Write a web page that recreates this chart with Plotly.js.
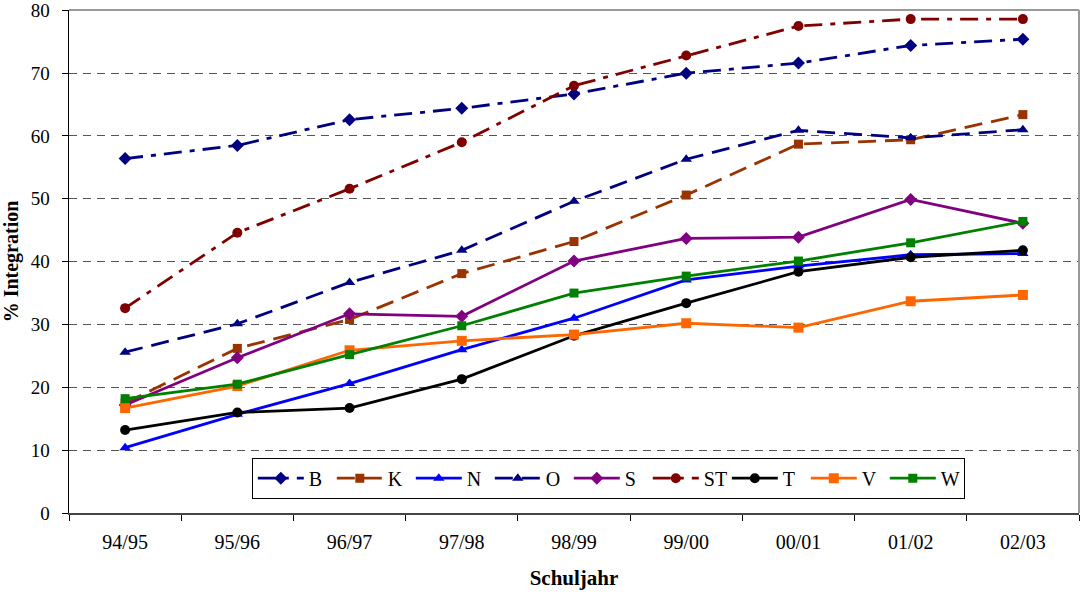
<!DOCTYPE html>
<html>
<head>
<meta charset="utf-8">
<script src="https://cdn.plot.ly/plotly-3.0.1.min.js"></script>
<style>html,body{margin:0;padding:0;background:#fff;}#chart{width:1081px;height:593px;}</style>
</head>
<body>
<div id="chart"></div>
<script>
const years = ["94/95","95/96","96/97","97/98","98/99","99/00","00/01","01/02","02/03"];
const B  = [56.4, 58.5, 62.6, 64.4, 66.7, 70.0, 71.6, 74.4, 75.4];
const K  = [17.5, 26.2, 30.8, 38.1, 43.2, 50.6, 58.7, 59.4, 63.4];
const N  = [10.4, 15.7, 20.6, 26.0, 31.0, 37.1, 39.3, 41.1, 41.3];
const O  = [25.6, 30.1, 36.7, 41.8, 49.6, 56.3, 60.9, 59.7, 61.0];
const S  = [17.2, 24.7, 31.7, 31.3, 40.1, 43.7, 43.9, 49.9, 46.1];
const ST = [32.6, 44.6, 51.6, 59.0, 68.0, 72.8, 77.5, 78.6, 78.6];
const T  = [13.2, 16.0, 16.7, 21.3, 28.2, 33.4, 38.4, 40.7, 41.8];
const V  = [16.7, 20.2, 25.9, 27.4, 28.4, 30.2, 29.5, 33.7, 34.7];
const W  = [18.2, 20.5, 25.2, 29.8, 35.0, 37.7, 40.1, 43.0, 46.4];
const yTicks = [0,10,20,30,40,50,60,70,80];

function tr(name, y, color, dash, symbol, msize) {
  return {
    type: 'scatter', mode: 'lines+markers', name: name, x: years, y: y,
    line: {color: color, width: 2.8, dash: dash},
    marker: {color: color, symbol: symbol, size: msize}
  };
}
const dashDot = '18px,8px,5px,8px';
const dashed = '18px,9px';
const data = [
  tr('B', B, '#000080', dashDot, 'diamond', 10),
  tr('K', K, '#993300', dashed, 'square', 9),
  tr('N', N, '#0000FF', 'solid', 'triangle-up', 10),
  tr('O', O, '#000080', dashed, 'triangle-up', 10),
  tr('S', S, '#800080', 'solid', 'diamond', 10),
  tr('ST', ST, '#800000', dashDot, 'circle', 10),
  tr('T', T, '#000000', 'solid', 'circle', 10),
  tr('V', V, '#FF6600', 'solid', 'square', 10),
  tr('W', W, '#008000', 'solid', 'square', 9)
];
const layout = {
  width: 1081, height: 593,
  margin: {l: 69, r: 2, t: 10, b: 80, autoexpand: false},
  paper_bgcolor: '#fff', plot_bgcolor: '#fff',
  font: {family: '"Liberation Serif", "DejaVu Serif", serif', size: 20, color: '#000'},
  showlegend: true,
  legend: {
    orientation: 'h', x: 0.181, y: 0.11, xanchor: 'left', yanchor: 'top',
    bordercolor: '#000', borderwidth: 1, bgcolor: '#fff',
    font: {size: 20}, itemwidth: 46, entrywidth: 18, entrywidthmode: 'pixels', traceorder: 'normal'
  },
  xaxis: {
    type: 'category', tickson: 'boundaries', ticks: 'outside', ticklen: 6,
    tickcolor: '#000', showline: true, linecolor: '#444', linewidth: 2,
    showgrid: false, zeroline: false, ticklabelstandoff: 10,
    tickfont: {size: 20},
    title: {text: '<b>Schuljahr</b>', font: {size: 21}, standoff: 18},
    range: [-0.5, 8.5]
  },
  yaxis: {
    range: [0, 80.05], tickvals: yTicks, ticktext: yTicks.map(String),
    ticks: 'outside', ticklen: 6, tickcolor: '#000',
    showline: true, linecolor: '#000', linewidth: 1.5,
    showgrid: true, gridcolor: '#555', griddash: '8px,6px', gridwidth: 1,
    zeroline: false, ticklabelstandoff: 8, ticklabeloverflow: 'allow',
    tickfont: {size: 19},
    title: {text: '<b>% Integration</b>', font: {size: 20}, standoff: 12}
  },
  shapes: [
    {type: 'line', xref: 'paper', yref: 'paper', x0: 0, x1: 1, y0: 1, y1: 1, line: {color: '#999', width: 2}},
    {type: 'line', xref: 'paper', yref: 'paper', x0: 1, x1: 1, y0: 0, y1: 1, line: {color: '#999', width: 2}}
  ]
};
Plotly.newPlot('chart', data, layout, {displayModeBar: false, staticPlot: true});
</script>
</body>
</html>
